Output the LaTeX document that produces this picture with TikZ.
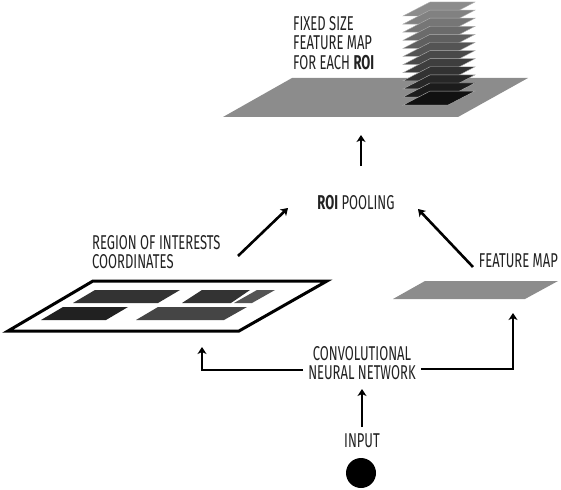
\documentclass[tikz,border=0pt]{standalone}
\usepackage{fontspec}
\setmainfont[FakeStretch=0.65]{Fira Sans}
\usetikzlibrary{arrows.meta}
\definecolor{plane}{HTML}{8C8C8C}
\definecolor{txt}{HTML}{222222}
\tikzset{
  lbl/.style={font=\fontsize{20}{19.5}\selectfont, text=txt, inner sep=0pt},
  arr/.style={line width=2.6pt, -{Stealth[length=7pt,width=9pt,inset=2pt]}},
}
\begin{document}
\begin{tikzpicture}[x=1pt,y=-1pt]
\useasboundingbox (0,0) rectangle (561,489);
% top plane
\fill[plane] (223,117) -- (292,78) -- (528,78) -- (458,117) -- cycle;
% stack of layers: grey (top) to near black (bottom)
\foreach \i in {0,...,11}{
  \pgfmathsetmacro{\yb}{16+\i*8.1}
  \pgfmathsetmacro{\g}{45+\i*4.4}
  \filldraw[fill=black!\g, draw=white!70!black, line width=0.4pt]
    (403,\yb) -- (448,\yb) -- (475,\yb-14) -- (430,\yb-14) -- cycle;
}
\node[lbl, anchor=west, align=left] (fixed) at (293,43) {FIXED SIZE\\FEATURE MAP\\FOR EACH \textbf{ROI}};
\coordinate (topbase) at (361,135);
% ROI pooling
\node[lbl] (pool) at (356,203) {\textbf{ROI} POOLING};
% region label
\node[lbl, anchor=west, align=left] (region) at (92,252) {REGION OF INTERESTS\\COORDINATES};
% feature map label
\node[lbl, anchor=east] (fmlbl) at (558,261) {FEATURE MAP};
% ROI frame plane
\filldraw[fill=white, draw=black, line width=3pt, line join=miter]
  (93,281) -- (327,281) -- (239,331) -- (8,331) -- cycle;
\fill[black!80] (95,290) -- (180,290) -- (158,303) -- (73,303) -- cycle;
\fill[black!80] (202,290) -- (250,290) -- (231,303) -- (182,303) -- cycle;
\fill[black!67] (257,290) -- (275,290) -- (252,303) -- (234,303) -- cycle;
\fill[black!87] (63,307) -- (128,307) -- (106,320) -- (41,320) -- cycle;
\fill[black!73] (158,307) -- (247,307) -- (224,320) -- (136,320) -- cycle;
% feature map plane
\fill[plane] (425,281) -- (558,281) -- (525,299) -- (393,299) -- cycle;
% CNN, input
\node[lbl, align=center] (cnn) at (362,363) {CONVOLUTIONAL\\NEURAL NETWORK};
\node[lbl] (inp) at (362,441) {INPUT};
\fill[black] (361,473) circle (15);
\node[circle, minimum size=30pt, inner sep=0pt] (dot) at (361,473) {};
% connector endpoints
\coordinate (lt) at (202,347);
\coordinate (rt) at (513,313);
\coordinate (la) at (238,256);
\coordinate (lb) at (288,208);
\coordinate (ra) at (473,267);
\coordinate (rb) at (418,209);
\coordinate (pa) at (361,166);
% arrows
\draw[arr] ([xshift=-5pt]cnn.west |- 0,370) -| (lt);
\draw[arr] ([xshift=5pt]cnn.east |- 0,369) -| (rt);
\draw[arr] (inp.north |- 0,427) -- (cnn.south |- 0,389);
\draw[arr] (la) -- (lb);
\draw[arr] (ra) -- (rb);
\draw[arr] (pa) -- (topbase);
\end{tikzpicture}
\end{document}
